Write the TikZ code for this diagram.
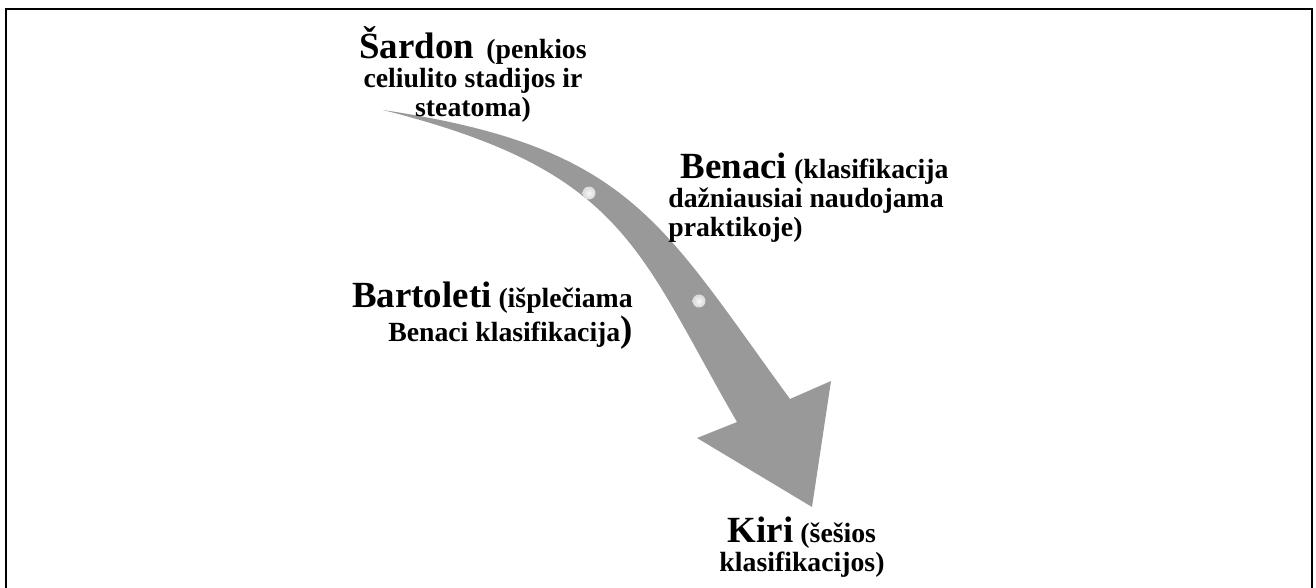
\documentclass[tikz,border=0pt]{standalone}
\usepackage{fontspec}
\setmainfont{Liberation Serif}
\definecolor{arrowgray}{HTML}{999999}
\newcommand\nmbig{\fontsize{21}{16.5}\selectfont}

\begin{document}
\begin{tikzpicture}[x=0.02cm, y=-0.02cm, label text/.style={inner sep=0pt, font=\bfseries\fontsize{15.8}{16.5}\selectfont}, dot/.style={circle, inner sep=0pt, minimum size=7.4pt, inner color=gray!6, outer color=gray!30}]
\useasboundingbox (0,0) rectangle (1316,588);
\draw[line width=1.2pt] (6,588) -- (6,9) -- (1312,9) -- (1312,588);
\fill[arrowgray] (383,110) .. controls (630,147) and (660,221) .. (790,399)
    -- (831,381) -- (812,507) -- (697,438) -- (737,422)
    .. controls (637,249) and (625,171) .. (383,110) -- cycle;
\node[dot] (dot1) at (589,193) {};
\node[dot] (dot2) at (699,301) {};
\node[label text, align=center, anchor=north] (sardon) at (473,26) {{\nmbig Šardon}\hspace{3pt} (penkios\\celiulito stadijos ir\\steatoma)};
\node[label text, align=left, anchor=north west] (benaci) at (668,153) {\hspace*{7pt}{\nmbig Benaci} (klasifikacija\\dažniausiai naudojama\\praktikoje)};
\node[label text, align=right, anchor=north east] (bartoleti) at (633,282) {{\nmbig Bartoleti} (išplečiama\\Benaci klasifikacija{\nmbig)}};
\node[label text, align=center, anchor=north] (kiri) at (802,517) {{\nmbig Kiri} (šešios\\klasifikacijos)};
\end{tikzpicture}
\end{document}
